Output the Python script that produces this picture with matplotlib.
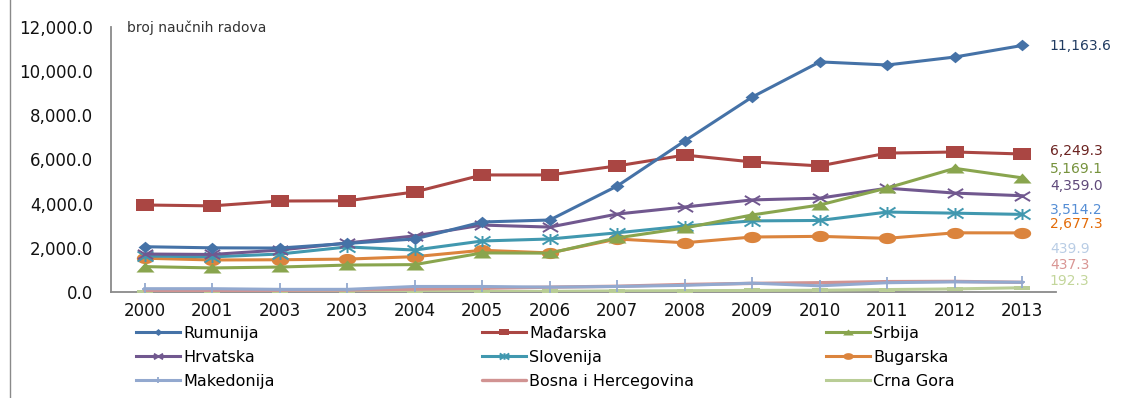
import matplotlib
matplotlib.use("Agg")
import matplotlib.pyplot as plt
from matplotlib.path import Path
from matplotlib.lines import Line2D
import numpy as np

plt.rcParams['font.family'] = ['DejaVu Sans']

# ---------------- data ----------------
years = ["2000", "2001", "2003", "2003", "2004", "2005", "2006",
         "2007", "2008", "2009", "2010", "2011", "2012", "2013"]

rumunija   = [2050, 2000, 1990, 2200, 2400, 3170, 3260, 4800, 6840, 8830, 10420, 10280, 10640, 11163.6]
madjarska  = [3940, 3900, 4120, 4130, 4530, 5300, 5300, 5710, 6200, 5890, 5710, 6290, 6340, 6249.3]
srbija     = [1150, 1090, 1130, 1220, 1240, 1770, 1760, 2450, 2900, 3490, 3940, 4710, 5600, 5169.1]
hrvatska   = [1720, 1700, 1900, 2220, 2540, 3030, 2940, 3530, 3850, 4170, 4250, 4700, 4480, 4359.0]
slovenija  = [1630, 1590, 1720, 2040, 1900, 2310, 2400, 2680, 2990, 3220, 3240, 3620, 3570, 3514.2]
bugarska   = [1530, 1450, 1460, 1490, 1600, 1890, 1770, 2400, 2230, 2490, 2520, 2430, 2680, 2677.3]
makedonija = [150, 150, 120, 120, 250, 250, 220, 250, 300, 400, 280, 420, 460, 439.9]
bosna      = [60, 70, 80, 90, 130, 170, 220, 260, 340, 390, 420, 470, 480, 437.3]
crna_gora  = [10, 10, 10, 15, 20, 25, 30, 50, 60, 70, 80, 110, 140, 192.3]

names = ["Rumunija", "Mađarska", "Srbija", "Hrvatska", "Slovenija",
         "Bugarska", "Makedonija", "Bosna i Hercegovina", "Crna Gora"]
series = [rumunija, madjarska, srbija, hrvatska, slovenija,
          bugarska, makedonija, bosna, crna_gora]

end_labels = ["11,163.6", "6,249.3", "5,169.1", "4,359.0", "3,514.2",
              "2,677.3", "439.9", "437.3", "192.3"]
# vertical placement of the end labels (data units)
end_label_y = [11140, 6390, 5570, 4800, 3720, 3060, 1950, 1230, 500]

y_ticks = [0, 2000, 4000, 6000, 8000, 10000, 12000]
y_tick_labels = ["0.0", "2,000.0", "4,000.0", "6,000.0", "8,000.0", "10,000.0", "12,000.0"]

# ---------------- styles ----------------
colors = ["#4572A7", "#AA4643", "#89A54E", "#71588F", "#4198AF",
          "#DB843D", "#93A9CF", "#D19392", "#B9CD96"]
label_colors = ["#1F3A60", "#6B2220", "#76923C", "#5F497A", "#558ED5",
                "#E36C09", "#B9CDE5", "#D99694", "#C3D69B"]

def poly(verts):
    return Path(verts + [verts[0]], closed=True)

diamond = poly([(0, 1), (1.2, 0), (0, -1), (-1.2, 0)])
rect = poly([(-1.6, -1), (1.6, -1), (1.6, 1), (-1.6, 1)])
tri = poly([(0, 1), (1.8, -1), (-1.8, -1)])
t = np.linspace(0, 2 * np.pi, 41)[:-1]
ellipse = poly(list(zip(1.55 * np.cos(t), np.sin(t))))
xm = Path([(-1.67, -1), (1.67, 1), (-1.67, 1), (1.67, -1)],
          [Path.MOVETO, Path.LINETO, Path.MOVETO, Path.LINETO])
star = Path([(-1.6, -1), (1.6, 1), (-1.6, 1), (1.6, -1), (0, -1.1), (0, 1.1)],
            [Path.MOVETO, Path.LINETO, Path.MOVETO, Path.LINETO, Path.MOVETO, Path.LINETO])
plus = Path([(0, -1), (0, 1), (-0.6, 0), (0.6, 0)],
            [Path.MOVETO, Path.LINETO, Path.MOVETO, Path.LINETO])
flat = poly([(-1.6, -0.4), (1.6, -0.4), (1.6, 0.4), (-1.6, 0.4)])

markers = [diamond, rect, tri, xm, star, ellipse, plus, None, flat]
msizes = [10, 13, 13, 11, 11.5, 12.5, 8, 0, 12]
mews = [0, 0, 0, 1.4, 1.4, 0, 1.3, 0, 0]

# ---------------- figure ----------------
W, H = 1129, 398
fig = plt.figure(figsize=(W / 100, H / 100), dpi=100)
ax = fig.add_axes([111 / W, 1 - 292 / H, 945 / W, 265 / H])

x = np.arange(len(years))
lines = []
for s, c, m, ms, mew, nm in zip(series, colors, markers, msizes, mews, names):
    if m is None:
        ln, = ax.plot(x, s, color=c, lw=2.4, label=nm, solid_capstyle='round')
    else:
        ln, = ax.plot(x, s, color=c, lw=2.2, marker=m, markersize=ms,
                      markerfacecolor=c, markeredgecolor=c, markeredgewidth=mew,
                      label=nm)
    lines.append(ln)

for i, ln in enumerate(lines):
    ln.set_zorder(3 + (len(lines) - i) * 0.01)

ax.set_xlim(-0.5, len(years) - 0.5)
ax.set_ylim(0, 12000)
ax.set_xticks(x)
ax.set_xticklabels(years, fontsize=12, color="#111111")
ax.set_yticks(y_ticks)
ax.set_yticklabels(y_tick_labels, fontsize=12, color="#111111")
ax.tick_params(axis='both', length=0)
ax.tick_params(axis='y', pad=13)
ax.tick_params(axis='x', pad=7)
for sp in ["top", "right"]:
    ax.spines[sp].set_visible(False)
for sp in ["left", "bottom"]:
    ax.spines[sp].set_color("#8A8A8A")
    ax.spines[sp].set_linewidth(1.3)

fig.text(127 / W, 1 - 28 / H, "broj naučnih radova",
         fontsize=10, color="#333333", va="center", ha="left")

for lab, ly, lc in zip(end_labels, end_label_y, label_colors):
    ax.text(13.41, ly, lab, fontsize=10, color=lc, va="center", ha="left",
            clip_on=False)

# outer frame edge on the left
fig.add_artist(Line2D([10 / W, 10 / W], [0, 1], transform=fig.transFigure,
                      color="#8A8A8A", lw=1.0))

# legend: three columns, entries row by row
col_x = [136, 482, 826]
for j in range(3):
    hs = [lines[j + 3 * r] for r in range(3)]
    fig.legend(handles=hs, labels=[h.get_label() for h in hs],
               loc="upper left", bbox_to_anchor=(col_x[j] / W, 1 - 326 / H),
               frameon=False, fontsize=11.5, handlelength=2.75,
               handletextpad=0.2, labelspacing=0.55, borderpad=0,
               borderaxespad=0, markerscale=0.6)

fig.savefig("out.png", dpi=100)
